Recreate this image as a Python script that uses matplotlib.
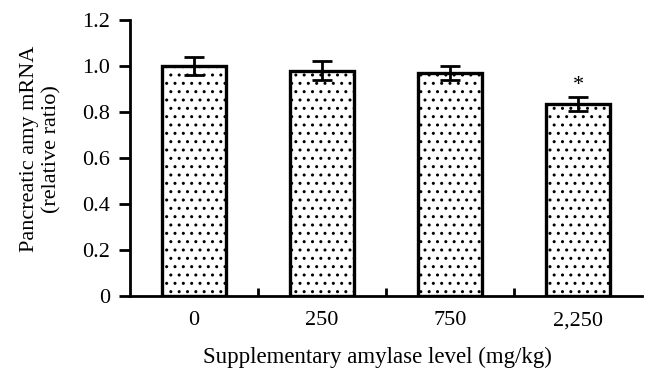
import matplotlib.pyplot as plt
import numpy as np

plt.rcParams['font.family'] = ['Liberation Serif', 'DejaVu Serif']
plt.rcParams['hatch.linewidth'] = 1.0

#data
levels = ['0', '250', '750', '2,250']
ratio = [1.00, 0.98, 0.97, 0.835]
err = [0.04, 0.04, 0.03, 0.03]
sig = ['', '', '', '*']

fig = plt.figure(figsize=(6.46, 3.72), dpi=100)
ax = fig.add_axes([0.201, 0.204, 0.793, 0.742])

x = np.arange(len(levels)) + 0.5
ax.bar(x, ratio, width=0.5, color='white', edgecolor='black', linewidth=2.4,
       hatch='..', zorder=2)
ax.errorbar(x, ratio, yerr=err, fmt='none', ecolor='black', elinewidth=2,
            capsize=7, capthick=2, zorder=3)
for xi, r, e, s in zip(x, ratio, err, sig):
    if s:
        ax.text(xi, r + e + 0.05, s, ha='center', va='center', fontsize=16)

ax.set_xlim(0, 4)
ax.set_ylim(0, 1.2)
ax.set_yticks(np.arange(0, 1.21, 0.2))
ax.set_yticklabels(['0', '0.2', '0.4', '0.6', '0.8', '1.0', '1.2'])
ax.set_xticks(x)
ax.set_xticklabels(levels)
ax.set_xticks([1, 2, 3], minor=True)
ax.tick_params(axis='x', which='major', length=0, labelsize=16, pad=11)
ax.tick_params(axis='x', which='minor', direction='in', length=6, width=2)
ax.tick_params(axis='y', direction='out', length=8, width=2, labelsize=16, pad=6)

ax.spines['top'].set_visible(False)
ax.spines['right'].set_visible(False)
ax.spines['left'].set_linewidth(2)
ax.spines['bottom'].set_linewidth(2)

ax.set_ylabel('Pancreatic amy mRNA\n(relative ratio)', fontsize=16,
              linespacing=1.25)
ax.yaxis.set_label_coords(-0.133, 0.533)
ax.set_xlabel('Supplementary amylase level (mg/kg)', fontsize=16.5)
ax.xaxis.set_label_coords(0.484, -0.185)

fig.savefig('out.png', dpi=100)
